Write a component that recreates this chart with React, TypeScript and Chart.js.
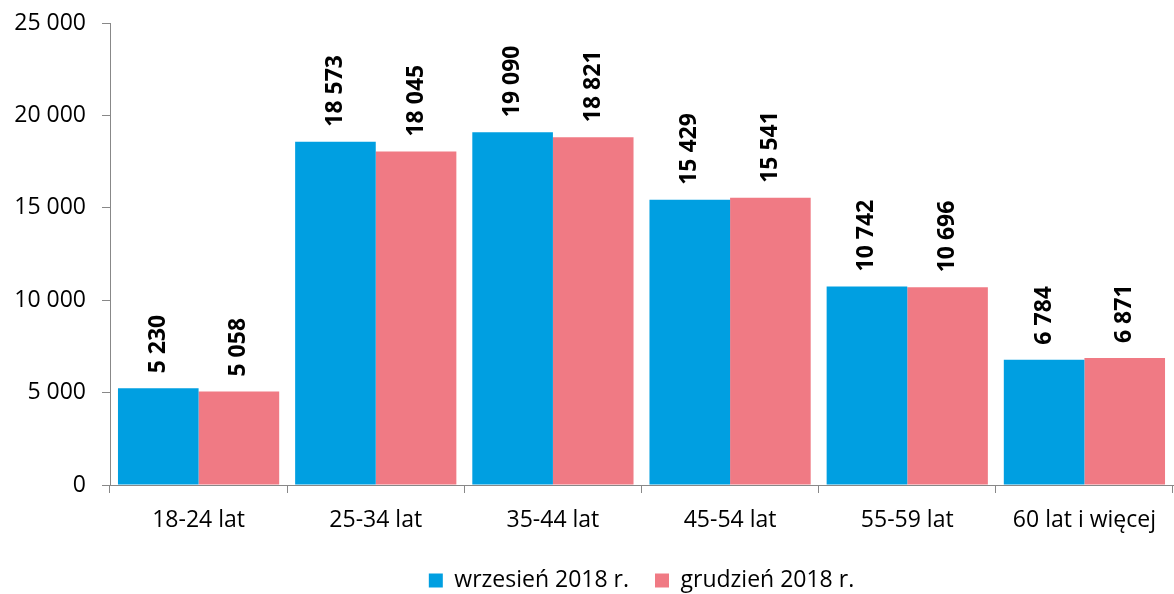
import React, { useEffect, useRef } from "react";
import { Chart, registerables } from "chart.js";

Chart.register(...registerables);

const categories = ["18-24 lat", "25-34 lat", "35-44 lat", "45-54 lat", "55-59 lat", "60 lat i więcej"];
const september = [5230, 18573, 19090, 15429, 10742, 6784];
const december = [5058, 18045, 18821, 15541, 10696, 6871];
const seriesNames = ["wrzesień 2018 r.", "grudzień 2018 r."];

const FONT = "'Open Sans', 'Noto Sans', sans-serif";

function fmt(v: number): string {
  return String(Math.round(v)).replace(/\B(?=(\d{3})+(?!\d))/g, " ");
}

const valueLabels = {
  id: "valueLabels",
  afterDatasetsDraw(chart: any) {
    const ctx = chart.ctx;
    ctx.save();
    ctx.font = `bold 23px ${FONT}`;
    ctx.fillStyle = "#000";
    ctx.textAlign = "left";
    ctx.textBaseline = "middle";
    chart.data.datasets.forEach((ds: any, di: number) => {
      const meta = chart.getDatasetMeta(di);
      meta.data.forEach((bar: any, i: number) => {
        ctx.save();
        ctx.translate(bar.x, bar.y - 15);
        ctx.rotate(-Math.PI / 2);
        ctx.fillText(fmt(ds.data[i]), 0, 0);
        ctx.restore();
      });
    });
    ctx.restore();
  },
};

export default function App() {
  const ref = useRef<HTMLCanvasElement>(null);
  useEffect(() => {
    document.body.style.margin = "0";
    const chart = new Chart(ref.current!, {
      type: "bar",
      data: {
        labels: categories,
        datasets: [
          {
            label: seriesNames[0],
            data: september,
            backgroundColor: "#009FE1",
            borderWidth: 0,
            categoryPercentage: 0.91,
            barPercentage: 1,
          },
          {
            label: seriesNames[1],
            data: december,
            backgroundColor: "#F07A84",
            borderWidth: 0,
            categoryPercentage: 0.91,
            barPercentage: 1,
          },
        ],
      },
      options: {
        animation: false,
        responsive: false,
        layout: { padding: { top: 23, right: 1, left: 0, bottom: -8 } },
        plugins: {
          legend: {
            position: "bottom",
            fullSize: false,
            labels: {
              font: { family: FONT, size: 23 },
              color: "#000",
              boxWidth: 14,
              boxHeight: 14,
              padding: 26,
            },
          },
          tooltip: { enabled: false },
        },
        scales: {
          x: {
            grid: { drawOnChartArea: false, color: "#888", tickLength: 8, offset: true },
            border: { color: "#888" },
            ticks: { font: { family: FONT, size: 23 }, color: "#000", padding: 14 },
            afterFit(scale: any) {
              scale.height = 58;
            },
          },
          y: {
            min: 0,
            max: 25000,
            ticks: {
              stepSize: 5000,
              font: { family: FONT, size: 23 },
              color: "#000",
              padding: 16,
              callback: (v: any) => fmt(Number(v)),
            },
            grid: { drawOnChartArea: false, color: "#888", tickLength: 8 },
            border: { color: "#888" },
            afterFit(scale: any) {
              scale.width = 110;
              scale.paddingTop = 10;
              scale.paddingBottom = 10;
            },
          },
        },
      },
      plugins: [valueLabels],
    });
    return () => chart.destroy();
  }, []);
  return <canvas ref={ref} width={1174} height={594} style={{ display: "block" }} />;
}
